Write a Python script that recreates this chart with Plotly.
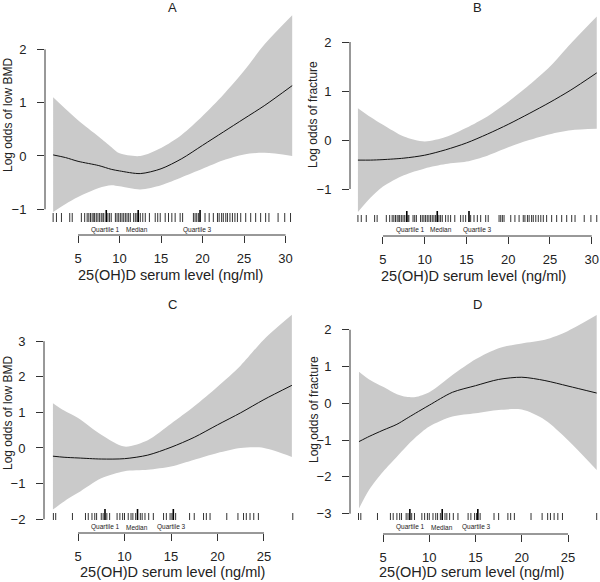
import plotly.graph_objects as go

# ---------------- data ----------------
# Panel A: low BMD, full sample
a_x = [2.0, 3.5, 5, 7.5, 9, 10, 12.5, 15, 17.5, 20, 22.5, 25, 27.5, 30.8]
a_fit = [0.02, -0.03, -0.10, -0.18, -0.25, -0.28, -0.33, -0.24, -0.05, 0.20, 0.45, 0.70, 0.95, 1.32]
a_upr = [1.10, 0.88, 0.67, 0.36, 0.17, 0.05, 0.00, 0.15, 0.40, 0.75, 1.15, 1.60, 2.10, 2.64]
a_lwr = [-1.05, -0.90, -0.77, -0.60, -0.55, -0.57, -0.63, -0.55, -0.40, -0.24, -0.08, 0.03, 0.06, 0.00]

# Panel B: fracture, full sample
b_x = [2.0, 3.5, 5, 7.5, 10, 12.5, 15, 17.5, 20, 22.5, 25, 27.5, 30.6]
b_fit = [-0.41, -0.41, -0.40, -0.37, -0.31, -0.20, -0.06, 0.12, 0.32, 0.54, 0.77, 1.02, 1.37]
b_upr = [0.65, 0.47, 0.31, 0.07, -0.03, 0.06, 0.25, 0.48, 0.78, 1.12, 1.50, 1.97, 2.52]
b_lwr = [-1.47, -1.18, -0.95, -0.72, -0.58, -0.49, -0.44, -0.32, -0.15, 0.00, 0.12, 0.20, 0.23]

# Panel C: low BMD, subgroup
c_x = [2.3, 3.5, 5, 7.5, 10, 12.5, 15, 17.5, 20, 22.5, 25, 28.0]
c_fit = [-0.23, -0.26, -0.28, -0.31, -0.30, -0.20, 0.02, 0.30, 0.65, 0.99, 1.36, 1.76]
c_upr = [1.26, 1.05, 0.84, 0.37, 0.04, 0.22, 0.68, 1.17, 1.72, 2.32, 3.05, 3.74]
c_lwr = [-1.73, -1.50, -1.26, -0.85, -0.65, -0.61, -0.52, -0.33, -0.14, 0.00, 0.00, -0.25]

# Panel D: fracture, subgroup
d_x = [2.4, 3.5, 5, 6.5, 7.5, 8.5, 10, 12.5, 15, 17.5, 20, 22.5, 25, 28.1]
d_fit = [-1.04, -0.90, -0.73, -0.57, -0.42, -0.27, -0.05, 0.30, 0.48, 0.65, 0.71, 0.62, 0.47, 0.28]
d_upr = [0.86, 0.65, 0.45, 0.25, 0.18, 0.17, 0.30, 0.77, 1.20, 1.50, 1.63, 1.73, 1.97, 2.40]
d_lwr = [-2.86, -2.35, -1.86, -1.45, -1.18, -0.93, -0.63, -0.36, -0.27, -0.18, -0.17, -0.45, -1.00, -1.81]

# rug values (observed 25(OH)D levels)
rug_full = [2.0, 2.4, 3.0, 4.0, 4.3, 5.4, 5.8, 6.1, 6.3, 6.5, 6.7, 6.9, 7.0, 7.2, 7.4,
            7.6, 7.8, 8.0, 8.1, 8.6, 8.8, 9.0, 9.5, 9.7, 9.9, 10.1, 10.3, 10.5, 10.7,
            10.9, 11.1, 11.3, 11.7, 11.9, 12.1, 12.5, 12.8, 13.1, 13.6, 14.3, 14.6,
            14.9, 15.5, 15.9, 16.3, 16.7, 17.3, 17.6, 18.9, 19.1, 19.3, 19.5, 20.3,
            20.8, 21.3, 21.8, 22.0, 22.3, 22.5, 22.8, 23.0, 23.3, 23.6, 23.9, 24.2,
            24.6, 25.2, 25.8, 26.4, 27.0, 27.6, 28.0, 29.1, 29.9, 30.6]
rug_sub = [2.35, 2.6, 4.4, 5.8, 6.1, 6.5, 6.8, 7.0, 7.5, 7.7, 8.1, 8.4, 9.2, 9.5, 9.8,
           10.0, 10.4, 10.7, 10.9, 11.2, 11.7, 11.9, 12.2, 12.6, 13.1, 14.2, 14.5,
           14.9, 15.1, 15.5, 17.0, 17.5, 18.5, 18.8, 19.2, 21.0, 22.2, 22.8, 23.1,
           23.5, 23.9, 24.4, 28.1]

quartile_names = ["Quartile 1", "Median", "Quartile 3"]
a_quart = [8.4, 12.25, 19.7]
a_qlab = [8.25, 12.05, 19.4]
b_quart = [7.85, 11.5, 15.3]
b_qlab = [8.3, 12.0, 16.3]
c_quart = [7.9, 11.4, 15.25]
c_qlab = [7.95, 11.3, 15.1]
d_quart = [7.9, 11.4, 15.25]
d_qlab = [7.95, 11.35, 15.1]

xticks_ab = [5, 10, 15, 20, 25, 30]
xticks_cd = [5, 10, 15, 20, 25]
a_yticks = [-1, 0, 1, 2]
b_yticks = [-1, 0, 1, 2]
c_yticks = [-2, -1, 0, 1, 2, 3]
d_yticks = [-3, -2, -1, 0, 1, 2]

titles = ["A", "B", "C", "D"]
ylabels = ["Log odds of low BMD", "Log odds of fracture", "Log odds of low BMD", "Log odds of fracture"]
xlabel = "25(OH)D serum level (ng/ml)"

# ---------------- layout geometry (pixels) ----------------
W, H = 600, 582
def fx(p): return p / W
def fy(p): return 1 - p / H

panels = [
    dict(x=a_x, fit=a_fit, upr=a_upr, lwr=a_lwr, rug=rug_full, q=a_quart, ql=a_qlab,
         xt=xticks_ab, yt=a_yticks, xdom=(45, 298), xr=(1.02, 31.5), ydom=(10, 224),
         yr=(-1.276, 2.739), axy=235, rug_px=(213, 222), tall=210, qy=230,
         tpos=(172, 7.5), ypos=(8, 115), xpos=(171, 275)),
    dict(x=b_x, fit=b_fit, upr=b_upr, lwr=b_lwr, rug=rug_full, q=b_quart, ql=b_qlab,
         xt=xticks_ab, yt=b_yticks, xdom=(350, 599), xr=(1.05, 30.87), ydom=(10, 224),
         yr=(-1.714, 2.653), axy=236, rug_px=(215, 222), tall=211, qy=230,
         tpos=(477, 7.5), ypos=(313, 114), xpos=(473, 276)),
    dict(x=c_x, fit=c_fit, upr=c_upr, lwr=c_lwr, rug=rug_sub, q=c_quart, ql=c_qlab,
         xt=xticks_cd, yt=c_yticks, xdom=(44, 298), xr=(1.34, 28.66), ydom=(305, 522),
         yr=(-2.079, 4.017), axy=533, rug_px=(513, 520), tall=509, qy=527,
         tpos=(172, 304), ypos=(8, 413), xpos=(172, 572)),
    dict(x=d_x, fit=d_fit, upr=d_upr, lwr=d_lwr, rug=rug_sub, q=d_quart, ql=d_qlab,
         xt=xticks_cd, yt=d_yticks, xdom=(350, 599), xr=(1.43, 28.35), ydom=(305, 522),
         yr=(-3.226, 2.674), axy=534, rug_px=(513, 520), tall=509, qy=527,
         tpos=(477, 304), ypos=(314, 410), xpos=(471, 572)),
]

FONT = "Liberation Sans, Arial, sans-serif"
AX = "#333333"
SMOOTH = 0.8
fig = go.Figure()
layout = dict(width=W, height=H, margin=dict(l=0, r=0, t=0, b=0, autoexpand=False),
              paper_bgcolor="white", plot_bgcolor="rgba(0,0,0,0)",
              showlegend=False, font=dict(family=FONT, color="#222222"))
shapes = []
annotations = []

for i, p in enumerate(panels):
    n = i + 1
    xa = "x" if n == 1 else f"x{n}"
    ya = "y" if n == 1 else f"y{n}"
    xkey = "xaxis" if n == 1 else f"xaxis{n}"
    ykey = "yaxis" if n == 1 else f"yaxis{n}"

    # confidence band: lower edge, then upper edge filled down to it
    fig.add_trace(go.Scatter(x=p["x"], y=p["lwr"], mode="lines",
                             line=dict(width=0, shape="spline", smoothing=SMOOTH, color="#cacaca"),
                             hoverinfo="skip", xaxis=xa, yaxis=ya))
    fig.add_trace(go.Scatter(x=p["x"], y=p["upr"], mode="lines", fill="tonexty",
                             fillcolor="#cacaca",
                             line=dict(width=0, shape="spline", smoothing=SMOOTH, color="#cacaca"),
                             hoverinfo="skip", xaxis=xa, yaxis=ya))
    # fitted curve
    fig.add_trace(go.Scatter(x=p["x"], y=p["fit"], mode="lines",
                             line=dict(color="#111111", width=1, shape="spline", smoothing=SMOOTH),
                             xaxis=xa, yaxis=ya))

    layout[xkey] = dict(domain=[fx(p["xdom"][0]), fx(p["xdom"][1])], range=list(p["xr"]),
                        anchor="free", position=fy(p["axy"]), tickmode="array",
                        tickvals=p["xt"], ticks="outside", ticklen=7, tickcolor=AX,
                        tickwidth=1, showline=False, showgrid=False, zeroline=False,
                        automargin=False,
                        tickfont=dict(size=13, family=FONT, color="#222222"),
                        ticklabelstandoff=4)
    layout[ykey] = dict(domain=[fy(p["ydom"][1]), fy(p["ydom"][0])], range=list(p["yr"]),
                        anchor=xa, tickmode="array", tickvals=p["yt"], ticks="outside",
                        ticklen=7, tickcolor=AX, tickwidth=1, showline=False,
                        showgrid=False, zeroline=False, automargin=False,
                        tickfont=dict(size=13, family=FONT, color="#222222"),
                        ticklabelstandoff=8)

    # axis lines spanning first to last tick (R style)
    shapes.append(dict(type="line", xref=xa, yref="paper", x0=p["xt"][0], x1=p["xt"][-1],
                       y0=fy(p["axy"]), y1=fy(p["axy"]), line=dict(color=AX, width=1)))
    shapes.append(dict(type="line", xref=f"{xa} domain", yref=ya, x0=0, x1=0,
                       y0=p["yt"][0], y1=p["yt"][-1], line=dict(color=AX, width=1)))

    # rug
    for v in p["rug"]:
        shapes.append(dict(type="line", xref=xa, yref="paper", x0=v, x1=v,
                           y0=fy(p["rug_px"][1]), y1=fy(p["rug_px"][0]),
                           line=dict(color="#333333", width=1)))
    for v in p["q"]:
        shapes.append(dict(type="line", xref=xa, yref="paper", x0=v, x1=v,
                           y0=fy(p["rug_px"][1]), y1=fy(p["tall"]),
                           line=dict(color="#000000", width=1.6)))
    for name, v in zip(quartile_names, p["ql"]):
        annotations.append(dict(text=name, xref=xa, yref="paper", x=v, y=fy(p["qy"]),
                                showarrow=False, xanchor="center", yanchor="middle",
                                font=dict(size=6.5, family=FONT, color="#222222")))

    # titles
    annotations.append(dict(text=titles[i], xref="paper", yref="paper",
                            x=fx(p["tpos"][0]), y=fy(p["tpos"][1]), showarrow=False,
                            xanchor="center", yanchor="middle",
                            font=dict(size=13, family=FONT, color="#222222")))
    annotations.append(dict(text=ylabels[i], xref="paper", yref="paper",
                            x=fx(p["ypos"][0]), y=fy(p["ypos"][1]), showarrow=False,
                            xanchor="center", yanchor="middle", textangle=-90,
                            font=dict(size=12, family=FONT, color="#222222")))
    annotations.append(dict(text=xlabel, xref="paper", yref="paper",
                            x=fx(p["xpos"][0]), y=fy(p["xpos"][1]), showarrow=False,
                            xanchor="center", yanchor="middle",
                            font=dict(size=14.5, family=FONT, color="#222222")))

layout["shapes"] = shapes
layout["annotations"] = annotations
fig.update_layout(**layout)
fig.write_html("out.html", config={"displayModeBar": False},
               post_script="document.body.style.margin='0';document.body.style.padding='0';")
